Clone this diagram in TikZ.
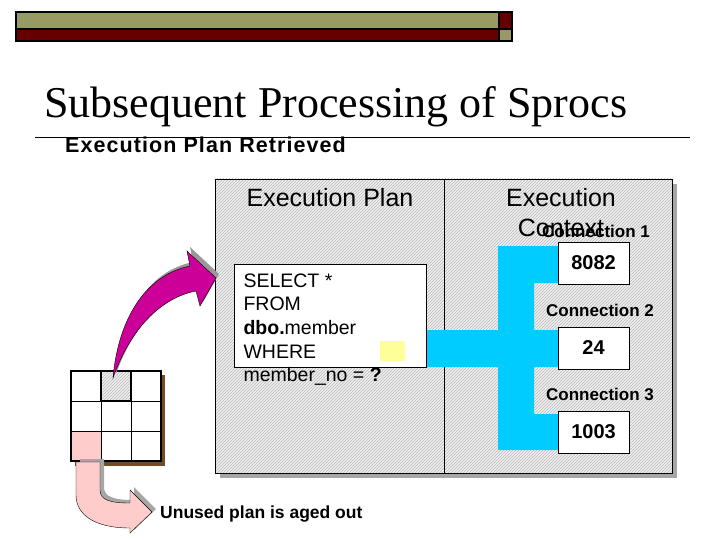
\documentclass[tikz,border=0pt]{standalone}
\usepackage{fontspec}
\setmainfont{Liberation Serif}
\setsansfont{Liberation Sans}
\usetikzlibrary{patterns}
\definecolor{olive}{HTML}{999966}
\definecolor{maroon}{HTML}{660000}
\definecolor{cyanb}{HTML}{00CCFF}
\definecolor{mag}{HTML}{CC0099}
\definecolor{pinkc}{HTML}{FFCCCC}
\definecolor{yel}{HTML}{FFFF99}
\tikzset{
 hatch/.style={fill=gray!12,postaction={pattern=north east lines,pattern color=gray!55}},
 valbox/.style={draw,fill=white,minimum width=71pt,minimum height=42pt,font=\sffamily\bfseries\fontsize{20}{22}\selectfont},
 conlbl/.style={font=\sffamily\bfseries\fontsize{17}{19}\selectfont},
 sq/.style={font=\sffamily\fontsize{19.5}{22}\selectfont,anchor=west},
}
\begin{document}
\begin{tikzpicture}[x=1pt,y=-1pt]
\useasboundingbox (0,0) rectangle (720,540);
% top bar
\draw[line width=1.2pt,fill=olive] (16,12) rectangle (499,29);
\draw[line width=1.2pt,fill=maroon] (16,29) rectangle (499,41);
\draw[line width=1.2pt,fill=maroon] (499,12) rectangle (512,29);
\draw[line width=1.2pt,fill=olive] (499,29) rectangle (512,41);
% title
\node[anchor=base west,inner sep=0,font=\fontsize{44}{48}\selectfont] (title) at (44,118) {Subsequent Processing of Sprocs};
\draw[line width=0.8pt] (35,137) -- (690,137);
\node[anchor=west,inner sep=0,font=\sffamily\bfseries\fontsize{21.5}{24}\selectfont\addfontfeatures{LetterSpace=5}] (sub) at (65,145) {Execution Plan Retrieved};
% main box
\fill[gray!70] (220,184) rectangle (677,478);
\draw[hatch] (215,179) rectangle (672,473);
\draw (215,179) rectangle (672,473);
\draw (444,179) -- (444,473);
\node[font=\sffamily\fontsize{25}{28}\selectfont] (ep) at (330,198) {Execution Plan};
\node[font=\sffamily\fontsize{25}{30}\selectfont,align=center] (ec) at (561,213) {Execution\\Context};
% blue connector
\fill[cyanb] (426,330) -- (498,330) -- (498,246) -- (560,246) -- (560,283) -- (534,283) -- (534,330) -- (560,330) -- (560,367) -- (534,367) -- (534,414) -- (560,414) -- (560,450) -- (498,450) -- (498,367) -- (426,367) -- cycle;
% sql box
\node[draw,fill=white,minimum width=192pt,minimum height=103pt] (sql) at (330,315.5) {};
\fill[yel] (380,341) rectangle (405,361);
\node[sq] (l1) at (240,281) {SELECT *};
\node[sq] (l2) at (240,304) {FROM};
\node[sq] (l3) at (240,328) {\textbf{dbo.}member};
\node[sq] (l4) at (240,352) {WHERE};
\node[sq] (l5) at (240,376) {member\_no = \textbf{?}};
% values
\node[conlbl] (c1) at (596,231) {Connection 1};
\node[valbox] (v1) at (593.5,263) {8082};
\node[conlbl] (c2) at (600,310) {Connection 2};
\node[valbox] (v2) at (593.5,348) {24};
\node[conlbl] (c3) at (600,394) {Connection 3};
\node[valbox] (v3) at (593.5,432) {1003};
% grid
\fill[brown!60!black] (75,375) rectangle (165,466);
\fill[white] (71,371) rectangle (161,461);
\fill[pinkc] (71,431) rectangle (101,461);
\draw[hatch] (101,371) rectangle (131,401);
\draw (101,371) -- (101,461) (131,371) -- (131,461) (71,401) -- (161,401) (71,431) -- (161,431);
\draw[line width=1.2pt] (71,371) rectangle (161,461);
\draw[line width=2pt] (101,371) rectangle (131,401);
% magenta arrow shadow + arrow
\begin{scope}[shift={(3,-4)}]
\fill[gray!80] (113,378) .. controls (118,320) and (145,275) .. (190,266) -- (187,251) -- (216,278) -- (200,306) -- (196,291) .. controls (160,298) and (130,330) .. cycle;
\end{scope}
\draw[fill=mag] (113,378) .. controls (118,320) and (145,275) .. (190,266) -- (187,251) -- (216,278) -- (200,306) -- (196,291) .. controls (160,298) and (130,330) .. cycle;
% pink arrow
\begin{scope}[shift={(4,-3)}]
\fill[gray!70] (76,462) -- (100,462) -- (100,490) .. controls (100,500) and (110,503) .. (130,503) -- (130,490) -- (152,512) -- (130,533) -- (130,528) .. controls (95,528) and (76,515) .. (76,495) -- cycle;
\end{scope}
\draw[fill=pinkc] (76,462) -- (100,462) -- (100,490) .. controls (100,500) and (110,503) .. (130,503) -- (130,490) -- (152,512) -- (130,533) -- (130,528) .. controls (95,528) and (76,515) .. (76,495) -- cycle;
\node[anchor=west,inner sep=0,font=\sffamily\bfseries\fontsize{17.5}{20}\selectfont] (unused) at (160,514) {Unused plan is aged out};
\end{tikzpicture}
\end{document}
